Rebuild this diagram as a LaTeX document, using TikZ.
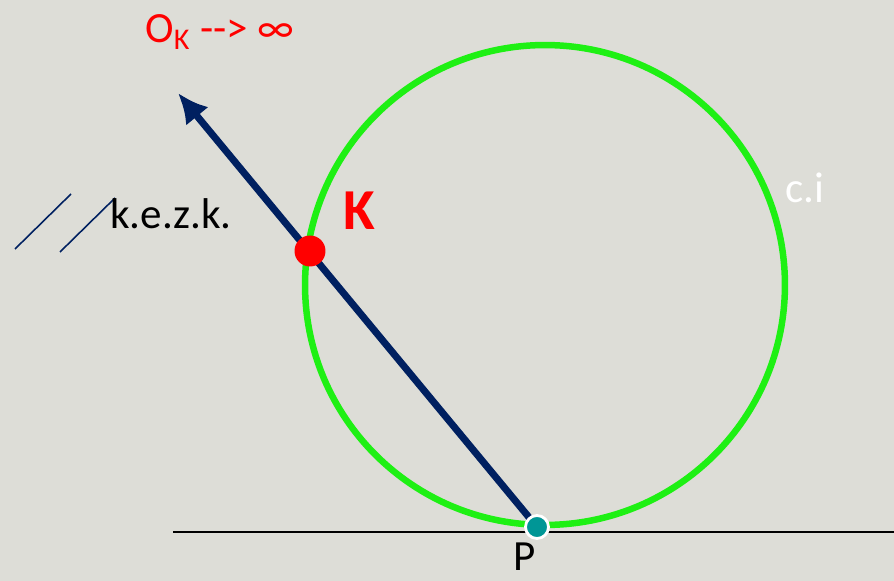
\documentclass[tikz,border=0pt]{standalone}
\usepackage{fontspec}
\setmainfont{Carlito}
\usetikzlibrary{positioning,arrows.meta}
\definecolor{bgray}{RGB}{221,221,215}
\definecolor{cgreen}{RGB}{30,240,20}
\definecolor{navy}{RGB}{0,32,96}
\definecolor{pteal}{RGB}{0,150,150}
\begin{document}
\begin{tikzpicture}[x=0.02cm, y=-0.02cm, every node/.style={font=\fontsize{24.5}{28}\selectfont, inner sep=0pt}]
  \tikzset{
    lbl/.style={anchor=base west},
    dot/.style={circle, minimum size=#1, inner sep=0pt},
    arr/.style={-{Latex[length=0.6cm, width=0.58cm]}, line width=0.14cm, navy}
  }
  \fill[bgray] (0,0) rectangle (894,581);
  \useasboundingbox (0,0) rectangle (894,581);
  % base line and circle of inversion
  \draw[black, line width=0.9pt] (173,532) coordinate (L) -- (894,532) coordinate (R);
  \coordinate (C) at (545,285);
  \draw[cgreen, line width=0.13cm] (C) circle[radius=4.8cm];
  % ray from P
  \coordinate (P) at (537,527);
  \coordinate (tip) at (178,93);
  \draw[arr] (P) -- (tip);
  \node[dot=0.62cm, fill=red] (K) at (310,251) {};
  \node[dot=0.46cm, fill=pteal, draw=white, line width=1.6pt] (Pd) at (P) {};
  % parallel marks
  \draw[navy, line width=0.9pt] (15,249) coordinate (a1) -- (71,194) coordinate (a2);
  \draw[navy, line width=0.9pt] (60,252) coordinate (b1) -- (115,198) coordinate (b2);
  % labels
  \node[lbl, red] (ok) at (145,43) {O\textsubscript{K} -{}-{}> ∞};
  \node[lbl] (kezk) at (110,229) {k.e.z.k.};
  \node[lbl, white] (ci) at (785,203) {c.i};
  \node[lbl] (plbl) at (513,570) {P};
  \node[lbl, red, font=\fontsize{33}{37}\selectfont\bfseries] (klbl) at (343,230) {K};
\end{tikzpicture}
\end{document}
